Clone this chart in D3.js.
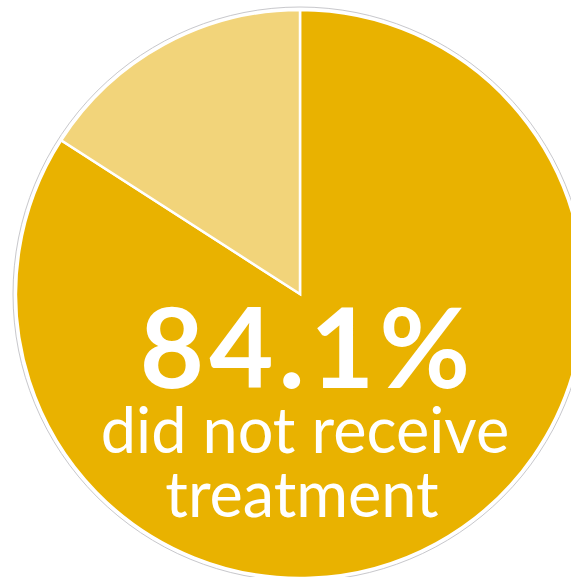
<!DOCTYPE html>
<html>
<head>
<meta charset="utf-8">
<script src="https://cdn.jsdelivr.net/npm/d3@7/dist/d3.min.js"></script>
<style>
  html, body { margin: 0; padding: 0; background: #ffffff; }
  svg { display: block; }
</style>
</head>
<body>
<svg id="chart" width="571" height="577"></svg>
<script>
// Share of people by treatment status (percent)
const categories = ["Did not receive treatment", "Received treatment"];
const values = [84.1, 15.9];
const colors = ["#E9B200", "#F2D47A"];
const headline = "84.1%";
const captionLines = ["did not receive", "treatment"];

const svg = d3.select("#chart");
const cx = 300, cy = 294, radius = 284;

const g = svg.append("g").attr("transform", `translate(${cx},${cy})`);

// faint outer ring
g.append("circle")
  .attr("r", radius + 3)
  .attr("fill", "none")
  .attr("stroke", "#c8c8cc")
  .attr("stroke-width", 1);

const pie = d3.pie().sort(null).value(d => d.value);
const arc = d3.arc().innerRadius(0).outerRadius(radius);
const color = d3.scaleOrdinal().domain(categories).range(colors);

const data = categories.map((c, i) => ({ category: c, value: values[i] }));

g.selectAll("path.slice")
  .data(pie(data))
  .join("path")
  .attr("class", "slice")
  .attr("d", arc)
  .attr("fill", d => color(d.data.category))
  .attr("stroke", "#ffffff")
  .attr("stroke-width", 2.5)
  .attr("stroke-linejoin", "miter");

// Centre label
const font = "Lato, 'Open Sans', sans-serif";
svg.append("text")
  .attr("x", 305 + 2.5)
  .attr("y", 388)
  .attr("text-anchor", "middle")
  .attr("fill", "#ffffff")
  .attr("font-family", font)
  .attr("font-weight", 700)
  .attr("font-size", 111)
  .attr("letter-spacing", 5)
  .text(headline);

svg.selectAll("text.caption")
  .data(captionLines)
  .join("text")
  .attr("class", "caption")
  .attr("x", (d, i) => (i === 0 ? 305 : 302))
  .attr("y", (d, i) => 453 + i * 64)
  .attr("text-anchor", "middle")
  .attr("fill", "#ffffff")
  .attr("font-family", font)
  .attr("font-weight", 400)
  .attr("font-size", 63)
  .text(d => d);
</script>
</body>
</html>
